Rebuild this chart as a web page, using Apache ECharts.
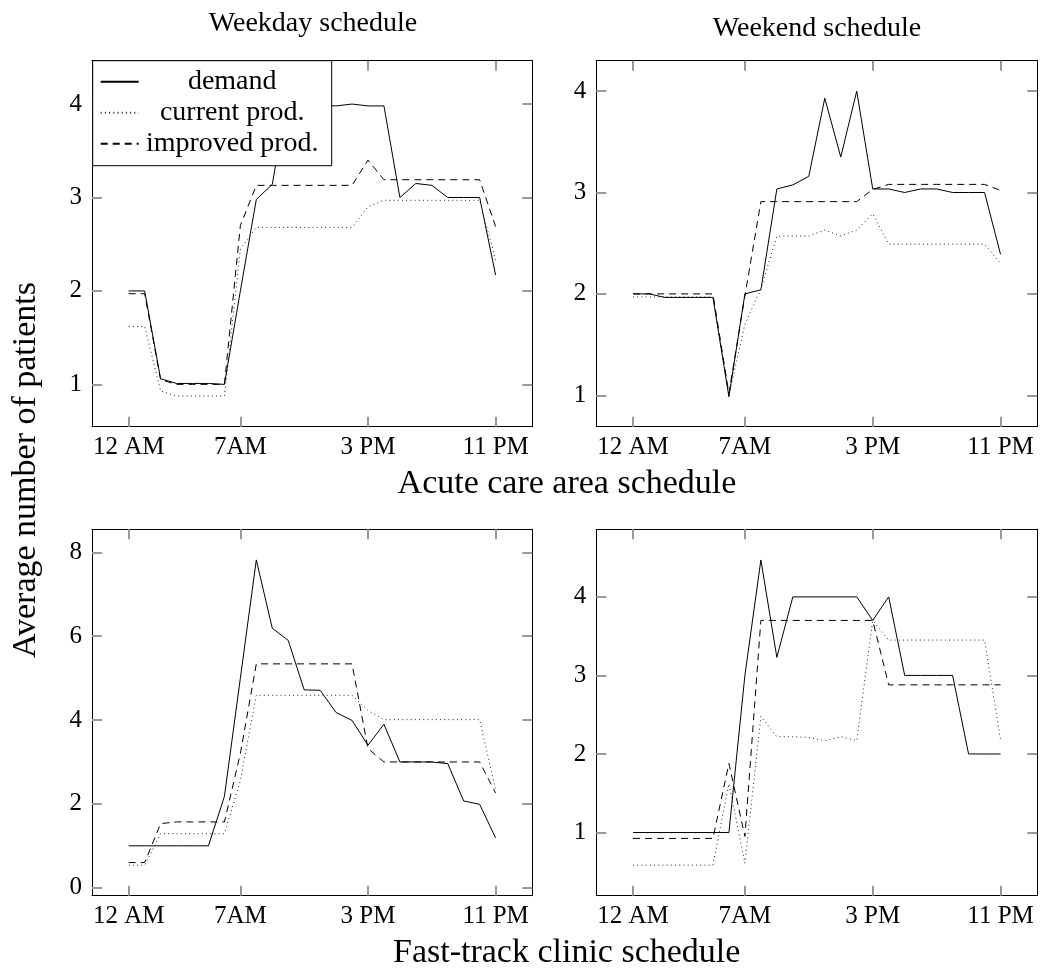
<!DOCTYPE html>
<html>
<head>
<meta charset="utf-8">
<script src="https://cdn.jsdelivr.net/npm/echarts@6/dist/echarts.min.js"></script>
<style>
    html, body { margin: 0; padding: 0; background: #fff; }
    #chart { width: 1040px; height: 968px; }
</style>
</head>
<body>
<div id="chart"></div>
<script>
// one point per hour of the day
var hours = [0, 1, 2, 3, 4, 5, 6, 7, 8, 9, 10, 11, 12, 13, 14, 15, 16, 17, 18, 19, 20, 21, 22, 23];
var tickHours = [0, 7, 15, 23];
var tickLabels = ['12 AM', '7AM', '3 PM', '11 PM'];
var seriesNames = ['demand', 'current prod.', 'improved prod.'];

// acute care area, weekday
var acuteWeekdayDemand = [2.0, 2.0, 1.06, 1.01, 1.01, 1.01, 1.0, 2.0, 2.98, 3.14, 4.14, 4.0, 3.99, 3.98, 4.0, 3.98, 3.98, 3.0, 3.15, 3.13, 3.0, 3.0, 3.0, 2.17];
var acuteWeekdayCurrent = [1.62, 1.62, 0.93, 0.875, 0.875, 0.875, 0.875, 2.45, 2.68, 2.68, 2.68, 2.68, 2.68, 2.68, 2.68, 2.9, 2.97, 2.97, 2.97, 2.97, 2.97, 2.97, 2.97, 2.33];
var acuteWeekdayImproved = [1.97, 1.97, 1.05, 1.0, 1.0, 1.0, 1.0, 2.7, 3.13, 3.13, 3.13, 3.13, 3.13, 3.13, 3.13, 3.4, 3.19, 3.19, 3.19, 3.19, 3.19, 3.19, 3.19, 2.69];

// acute care area, weekend
var acuteWeekendDemand = [2.0, 2.0, 1.965, 1.965, 1.965, 1.965, 0.985, 2.0, 2.04, 3.035, 3.075, 3.16, 3.93, 3.35, 4.0, 3.035, 3.035, 3.0, 3.035, 3.035, 3.0, 3.0, 3.0, 2.39];
var acuteWeekendCurrent = [1.97, 1.97, 1.97, 1.97, 1.97, 1.97, 1.0, 1.7, 2.05, 2.57, 2.57, 2.57, 2.63, 2.57, 2.63, 2.79, 2.49, 2.49, 2.49, 2.49, 2.49, 2.49, 2.49, 2.3];
var acuteWeekendImproved = [2.0, 2.0, 2.0, 2.0, 2.0, 2.0, 1.02, 1.98, 2.91, 2.91, 2.91, 2.91, 2.91, 2.91, 2.91, 3.03, 3.08, 3.08, 3.08, 3.08, 3.08, 3.08, 3.08, 3.02];

// fast-track clinic, weekday
var fastWeekdayDemand = [1.0, 1.0, 1.0, 1.0, 1.0, 1.0, 2.18, 5.0, 7.82, 6.19, 5.9, 4.72, 4.71, 4.18, 3.99, 3.4, 3.9, 3.0, 3.0, 3.0, 2.96, 2.07, 1.99, 1.19];
var fastWeekdayCurrent = [0.54, 0.54, 1.29, 1.29, 1.29, 1.29, 1.29, 2.56, 4.59, 4.59, 4.59, 4.59, 4.59, 4.59, 4.59, 4.23, 4.01, 4.01, 4.01, 4.01, 4.01, 4.01, 4.01, 2.33];
var fastWeekdayImproved = [0.6, 0.6, 1.53, 1.57, 1.57, 1.57, 1.57, 3.2, 5.34, 5.34, 5.34, 5.34, 5.34, 5.34, 5.34, 3.32, 3.0, 3.0, 3.0, 3.0, 3.0, 3.0, 3.0, 2.26];

// fast-track clinic, weekend
var fastWeekendDemand = [1.0, 1.0, 1.0, 1.0, 1.0, 1.0, 1.0, 3.0, 4.47, 3.23, 4.0, 4.0, 4.0, 4.0, 4.0, 3.7, 4.0, 3.0, 3.0, 3.0, 3.0, 2.0, 2.0, 2.0];
var fastWeekendCurrent = [0.585, 0.585, 0.585, 0.585, 0.585, 0.585, 1.62, 0.61, 2.48, 2.22, 2.22, 2.21, 2.17, 2.22, 2.17, 3.7, 3.45, 3.45, 3.45, 3.45, 3.45, 3.45, 3.45, 2.18];
var fastWeekendImproved = [0.925, 0.925, 0.925, 0.925, 0.925, 0.925, 1.88, 0.95, 3.7, 3.7, 3.7, 3.7, 3.7, 3.7, 3.7, 3.7, 2.88, 2.88, 2.88, 2.88, 2.88, 2.88, 2.88, 2.88];

// y ticks of each panel
var acuteWeekdayTicks = [1, 2, 3, 4];
var acuteWeekendTicks = [1, 2, 3, 4];
var fastWeekdayTicks = [0, 2, 4, 6, 8];
var fastWeekendTicks = [1, 2, 3, 4];

var FONT = 'Liberation Serif';

var panels = [
    {series: [acuteWeekdayDemand, acuteWeekdayCurrent, acuteWeekdayImproved], yTicks: acuteWeekdayTicks,
        yMin: 0.547, yMax: 4.464, left: 92, top: 60.7, width: 440.3, height: 366},
    {series: [acuteWeekendDemand, acuteWeekendCurrent, acuteWeekendImproved], yTicks: acuteWeekendTicks,
        yMin: 0.69, yMax: 4.3, left: 596.3, top: 60.7, width: 441, height: 366},
    {series: [fastWeekdayDemand, fastWeekdayCurrent, fastWeekdayImproved], yTicks: fastWeekdayTicks,
        yMin: -0.19, yMax: 8.55, left: 92, top: 529.3, width: 440.3, height: 366.4},
    {series: [fastWeekendDemand, fastWeekendCurrent, fastWeekendImproved], yTicks: fastWeekendTicks,
        yMin: 0.196, yMax: 4.86, left: 596.3, top: 529.3, width: 441, height: 366.4}
];

// solid / dotted / dashed like the pgfplots original
var lineTypes = ['solid', [1, 3.2], [7, 5]];
var lineColors = ['#000', '#222', '#000'];

function zip(ys) {
    return hours.map(function (h, i) { return [h, ys[i]]; });
}

// ticks point inwards on all four sides of each frame
function tickStyle(values) {
    return {show: true, inside: true, length: 10, customValues: values,
        lineStyle: {color: '#999', width: 2}};
}

var frameLine = {show: true, onZero: false, lineStyle: {color: '#000', width: 1}};

var grids = [], xAxes = [], yAxes = [], series = [];

panels.forEach(function (p, i) {
    grids.push({left: p.left, top: p.top, width: p.width, height: p.height, outerBoundsMode: 'none'});

    ['bottom', 'top'].forEach(function (pos) {
        xAxes.push({
            type: 'value', gridIndex: i, position: pos, min: -2.3, max: 25.3,
            axisLine: frameLine, splitLine: {show: false},
            axisTick: tickStyle(tickHours),
            axisLabel: {
                show: pos === 'bottom', customValues: tickHours, margin: 8,
                fontFamily: FONT, fontSize: 25, color: '#000',
                formatter: function (v) { return tickLabels[tickHours.indexOf(v)]; }
            }
        });
    });
    ['left', 'right'].forEach(function (pos) {
        yAxes.push({
            type: 'value', gridIndex: i, position: pos, min: p.yMin, max: p.yMax,
            axisLine: frameLine, splitLine: {show: false},
            axisTick: tickStyle(p.yTicks),
            axisLabel: {show: pos === 'left', customValues: p.yTicks, margin: 10,
                fontFamily: FONT, fontSize: 25, color: '#000'}
        });
    });

    p.series.forEach(function (ys, k) {
        series.push({
            name: seriesNames[k], type: 'line', xAxisIndex: 2 * i, yAxisIndex: 2 * i,
            data: zip(ys), symbol: 'none',
            lineStyle: {color: lineColors[k], width: 1, type: lineTypes[k]},
            itemStyle: {color: lineColors[k]}
        });
    });
});

function label(text, x, y, size, rot) {
    return {type: 'text', x: x, y: y, rotation: rot || 0,
        style: {text: text, fontFamily: FONT, fontSize: size, fill: '#000', align: 'center', verticalAlign: 'middle'}};
}

var chart = echarts.init(document.getElementById('chart'));
chart.setOption({
    animation: false,
    backgroundColor: '#fff',
    grid: grids,
    xAxis: xAxes,
    yAxis: yAxes,
    series: series,
    legend: {
        data: seriesNames, orient: 'vertical', left: 92.7, top: 60.7,
        backgroundColor: '#fff', borderColor: '#000', borderWidth: 1,
        padding: [7, 11, 8, 7], itemWidth: 38, itemHeight: 14, itemGap: 3,
        // line sample only, no marker
        itemStyle: {color: 'rgba(0,0,0,0)', borderWidth: 0, opacity: 0},
        formatter: function (name) { return '{t|' + name + '}'; },
        textStyle: {rich: {t: {width: 177, align: 'center', fontFamily: FONT, fontSize: 28, lineHeight: 28, color: '#000'}}}
    },
    graphic: [
        label('Weekday schedule', 313, 24, 28),
        label('Weekend schedule', 817, 28.5, 28),
        label('Acute care area schedule', 567, 484, 34),
        label('Fast-track clinic schedule', 566.7, 953, 34),
        label('Average number of patients', 26, 470, 34, Math.PI / 2)
    ]
});
</script>
</body>
</html>
